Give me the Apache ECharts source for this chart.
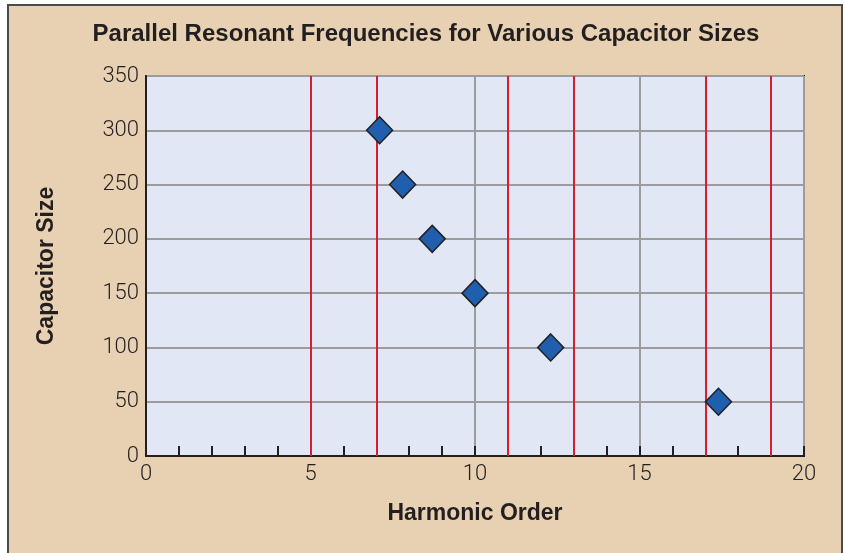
<!DOCTYPE html>
<html>
<head>
<meta charset="utf-8">
<script src="https://cdn.jsdelivr.net/npm/echarts@6/dist/echarts.min.js"></script>
<style>
html,body{margin:0;padding:0;background:#fff;}
#chart{width:845px;height:553px;}
</style>
</head>
<body>
<div id="chart"></div>
<script>
// Data
const harmonicOrder = [7.1, 7.8, 8.7, 10.0, 12.3, 17.4];
const capacitorSize = [300, 250, 200, 150, 100, 50];
const redHarmonics = [5, 7, 11, 13, 17, 19];
const titleText = 'Parallel Resonant Frequencies for Various Capacitor Sizes';
const xName = 'Harmonic Order';
const yName = 'Capacitor Size';

const points = harmonicOrder.map((h, i) => [h, capacitorSize[i]]);

const labelFont = {fontFamily: 'Roboto', fontWeight: 300, fontSize: 22, color: '#231f20'};
const nameFont = {fontFamily: 'Liberation Sans', fontWeight: 'bold', fontSize: 23, color: '#231f20'};

const chart = echarts.init(document.getElementById('chart'), null, {renderer: 'canvas'});
chart.setOption({
  animation: false,
  backgroundColor: '#ffffff',
  graphic: [{
    type: 'rect',
    z: -10,
    silent: true,
    shape: {x: 8, y: 5, width: 834, height: 560},
    style: {fill: '#e8d1b2', stroke: '#4a4a4a', lineWidth: 2}
  }, {
    type: 'text',
    z: 10,
    silent: true,
    x: 426, y: 34,
    style: {
      text: titleText,
      fill: '#231f20',
      font: 'bold 24px "Liberation Sans", sans-serif',
      textAlign: 'center',
      textVerticalAlign: 'middle'
    }
  }],
  grid: {
    left: 146, right: 41, top: 76, bottom: 97,
    show: true,
    backgroundColor: '#e1e7f4',
    borderColor: '#231f20',
    borderWidth: 2
  },
  xAxis: {
    type: 'value',
    min: 0, max: 20, interval: 5,
    name: xName,
    nameLocation: 'middle',
    nameGap: 46,
    nameTextStyle: nameFont,
    axisLine: {show: true, lineStyle: {color: '#231f20', width: 2}},
    axisTick: {show: true, inside: true, length: 10, lineStyle: {color: '#231f20', width: 2}},
    minorTick: {show: true, splitNumber: 5, length: 10, lineStyle: {color: '#231f20', width: 2}},
    splitLine: {show: true, lineStyle: {color: '#9c9c9e', width: 2}},
    axisLabel: Object.assign({margin: 7}, labelFont)
  },
  yAxis: {
    type: 'value',
    min: 0, max: 350, interval: 50,
    name: yName,
    nameLocation: 'middle',
    nameGap: 88,
    nameTextStyle: nameFont,
    axisLine: {show: true, lineStyle: {color: '#231f20', width: 2}},
    axisTick: {show: false},
    splitLine: {show: true, lineStyle: {color: '#9c9c9e', width: 2}},
    axisLabel: Object.assign({margin: 7}, labelFont)
  },
  series: [
    {
      type: 'scatter',
      data: [],
      z: 3,
      markLine: {
        silent: true,
        symbol: 'none',
        label: {show: false},
        lineStyle: {color: '#d41f2f', width: 2, type: 'solid'},
        data: redHarmonics.map(v => ({xAxis: v}))
      }
    },
    {
      type: 'scatter',
      z: 5,
      data: points,
      symbol: 'diamond',
      symbolSize: [26, 27],
      itemStyle: {color: '#1f5fae', borderColor: '#231f20', borderWidth: 1.5, opacity: 1}
    }
  ]
});
</script>
</body>
</html>
